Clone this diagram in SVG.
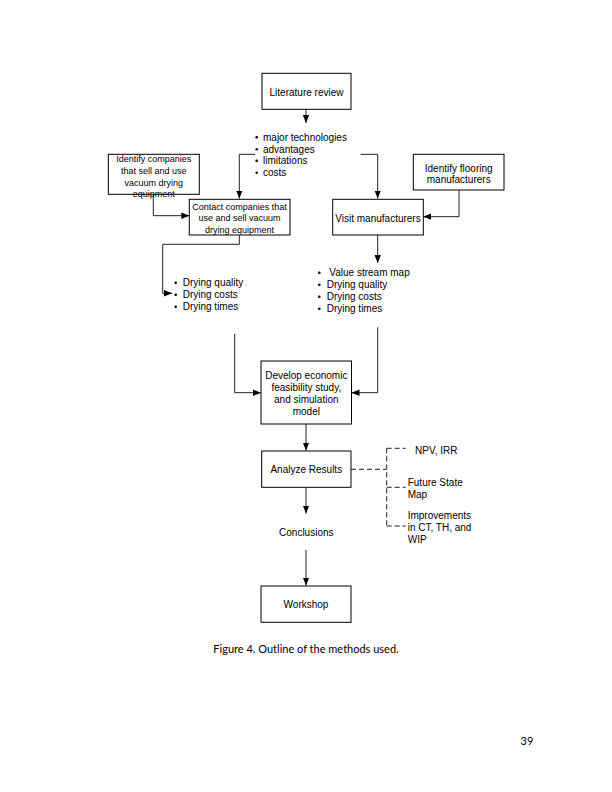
<svg xmlns="http://www.w3.org/2000/svg" width="612" height="792" viewBox="0 0 612 792">
<style>
.box{fill:#fff;stroke:#000;stroke-width:1}
.t{font-family:"Liberation Sans",Arial,sans-serif;font-size:10px;fill:#000}
.s{font-size:9px}
.c{text-anchor:middle}
.ln{fill:none;stroke:#222;stroke-width:1}
.dash{fill:none;stroke:#222;stroke-width:1;stroke-dasharray:5,3}
.cap{font-family:Lato,"Open Sans",sans-serif;font-size:11px;fill:#000}
.b{fill:#000}
</style>
<defs>
<marker id="ah" markerUnits="userSpaceOnUse" markerWidth="8" markerHeight="8" viewBox="0 0 8 8" refX="8" refY="4" orient="auto">
<path d="M0,0.8 L8,4 L0,7.2 Z" fill="#000"/>
</marker>
</defs>
<rect width="612" height="792" fill="#fff"/>

<g id="connectors">
<path class="ln" d="M306,109 V123" marker-end="url(#ah)"/>
<path class="ln" d="M255,154.3 H239.3 V198.5" marker-end="url(#ah)"/>
<path class="ln" d="M360.7,154.3 H377.7 V198.5" marker-end="url(#ah)"/>
<path class="ln" d="M153.3,194.3 V215.7 H189.3" marker-end="url(#ah)"/>
<path class="ln" d="M459,190 V216.7 H423.3" marker-end="url(#ah)"/>
<path class="ln" d="M239.3,235 V244.3 H162.7 V293.3 H172" marker-end="url(#ah)"/>
<path class="ln" d="M377.7,235 V263" marker-end="url(#ah)"/>
<path class="ln" d="M234.7,334 V392.7 H261" marker-end="url(#ah)"/>
<path class="ln" d="M377.7,327.3 V392.7 H351.5" marker-end="url(#ah)"/>
<path class="ln" d="M306,424 V450.5" marker-end="url(#ah)"/>
<path class="ln" d="M306,487.3 V513.5" marker-end="url(#ah)"/>
<path class="ln" d="M306,550 V585.5" marker-end="url(#ah)"/>
<path class="dash" d="M351,469.3 H386.7"/>
<path class="dash" d="M386.7,448.3 V526"/>
<path class="dash" d="M386.7,448.3 H405.7"/>
<path class="dash" d="M386.7,487.3 H405.7"/>
<path class="dash" d="M386.7,526 H405.7"/>
</g>

<g id="literature-review">
<rect class="box" x="262" y="73.3" width="89" height="36"/>
<text class="t c" x="306.5" y="95.5">Literature review</text>
</g>

<g id="lit-bullets">
<circle class="b" cx="256.7" cy="137.3" r="1.3"/>
<circle class="b" cx="256.7" cy="149.3" r="1.3"/>
<circle class="b" cx="256.7" cy="160.8" r="1.3"/>
<circle class="b" cx="256.7" cy="172.8" r="1.3"/>
<text class="t" x="263" y="140.5">major technologies</text>
<text class="t" x="263" y="152.5">advantages</text>
<text class="t" x="263" y="164">limitations</text>
<text class="t" x="263" y="176">costs</text>
</g>

<g id="identify-companies">
<rect class="box" x="108.3" y="154.3" width="91" height="40"/>
<text class="t s c" x="153.8" y="162.3">Identify companies</text>
<text class="t s c" x="153.8" y="174">that sell and use</text>
<text class="t s c" x="153.8" y="185.5">vacuum drying</text>
<text class="t s c" x="153.8" y="197">equipment</text>
</g>

<g id="contact-companies">
<rect class="box" x="189.3" y="199.3" width="100.7" height="35.7"/>
<text class="t s c" x="239.5" y="209.8">Contact companies that</text>
<text class="t s c" x="239.5" y="221.3">use and sell vacuum</text>
<text class="t s c" x="239.5" y="232.5">drying equipment</text>
</g>

<g id="identify-flooring">
<rect class="box" x="413.3" y="154.3" width="90.7" height="35.7"/>
<text class="t c" x="458.7" y="171.5">Identify flooring</text>
<text class="t c" x="458.7" y="183.3">manufacturers</text>
</g>

<g id="visit-manufacturers">
<rect class="box" x="332.7" y="199.3" width="90.6" height="35.7"/>
<text class="t c" x="378" y="221.5">Visit manufacturers</text>
</g>

<g id="contact-bullets">
<circle class="b" cx="175.7" cy="282.8" r="1.3"/>
<circle class="b" cx="175.7" cy="294.8" r="1.3"/>
<circle class="b" cx="175.7" cy="306.8" r="1.3"/>
<text class="t" x="182.7" y="286">Drying quality</text>
<text class="t" x="182.7" y="298">Drying costs</text>
<text class="t" x="182.7" y="310">Drying times</text>
</g>

<g id="visit-bullets">
<circle class="b" cx="319.3" cy="272.8" r="1.3"/>
<circle class="b" cx="319.3" cy="284.8" r="1.3"/>
<circle class="b" cx="319.3" cy="296.8" r="1.3"/>
<circle class="b" cx="319.3" cy="308.8" r="1.3"/>
<text class="t" x="329.3" y="276">Value stream map</text>
<text class="t" x="326.7" y="288">Drying quality</text>
<text class="t" x="326.7" y="300">Drying costs</text>
<text class="t" x="326.7" y="312">Drying times</text>
</g>

<g id="develop-model">
<rect class="box" x="261" y="361" width="90.5" height="63"/>
<text class="t c" x="306.3" y="379.3">Develop economic</text>
<text class="t c" x="306.3" y="391">feasibility study,</text>
<text class="t c" x="306.3" y="403">and simulation</text>
<text class="t c" x="306.3" y="414.5">model</text>
</g>

<g id="analyze-results">
<rect class="box" x="261.7" y="451" width="89.3" height="36.3"/>
<text class="t c" x="306.3" y="473.3">Analyze Results</text>
</g>

<g id="results-list">
<text class="t" x="415" y="453.5">NPV, IRR</text>
<text class="t" x="407.7" y="485.5">Future State</text>
<text class="t" x="407.7" y="498">Map</text>
<text class="t" x="407.7" y="519.3">Improvements</text>
<text class="t" x="407.7" y="531">in CT, TH, and</text>
<text class="t" x="407.7" y="542.5">WIP</text>
</g>

<g id="conclusions">
<text class="t c" x="306.3" y="536">Conclusions</text>
</g>

<g id="workshop">
<rect class="box" x="261" y="586" width="90" height="36.3"/>
<text class="t c" x="306" y="607.5">Workshop</text>
</g>

<text class="cap" x="306" y="652.5" text-anchor="middle">Figure 4. Outline of the methods used.</text>
<text class="cap" x="520.5" y="745">39</text>
</svg>
